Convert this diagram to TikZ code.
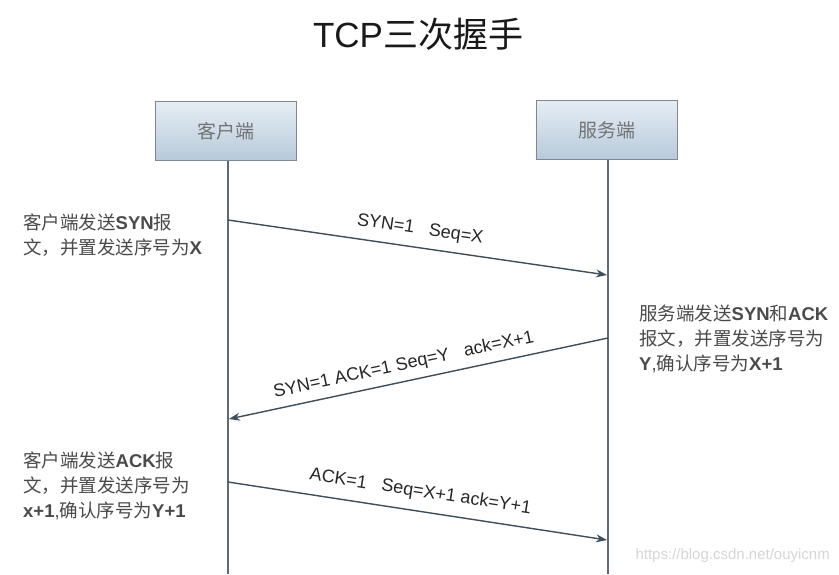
\documentclass[tikz,border=0pt]{standalone}
\usepackage{fontspec}
\setmainfont{Liberation Sans}
\newfontfamily\zh{Noto Sans CJK SC}
\usetikzlibrary{arrows.meta}
\definecolor{boxtop}{HTML}{E6EDF4}
\definecolor{boxbot}{HTML}{B7CADB}
\definecolor{boxline}{HTML}{7D8893}
\definecolor{lifeline}{HTML}{5E6B76}
\definecolor{msgcol}{HTML}{3E4E5A}
\definecolor{sidetxt}{HTML}{4A4A4A}
\definecolor{wmark}{HTML}{D6D6D6}
\begin{document}
\begin{tikzpicture}[x=1pt,y=-1pt,
  actor/.style={draw=boxline, line width=1.2pt, top color=boxtop, bottom color=boxbot,
    minimum width=141pt, minimum height=59pt, inner sep=0pt,
    font=\zh\fontsize{19}{19}\selectfont, text=black!55},
  life/.style={draw=lifeline, line width=1.4pt},
  msg/.style={draw=msgcol, line width=1.4pt, -{Stealth[length=11pt,width=8pt]}},
  lbl/.style={font=\fontsize{18}{18}\selectfont, text=black!85, inner sep=3pt},
  side/.style={anchor=base west, align=left, inner sep=0pt,
    font=\fontsize{18.5}{25}\selectfont, text=sidetxt}
]
\useasboundingbox[fill=white] (0,0) rectangle (839,574);

% title
\node[anchor=base, font=\fontsize{35}{35}\selectfont, text=black!90] (title) at (418,47) {TCP{\zh 三次握手}};

% actors
\node[actor] (client) at (226,131) {客户端};
\node[actor] (server) at (607,130) {服务端};

% lifelines
\coordinate (cend) at (228,574);
\coordinate (send) at (608,574);
\draw[life] (client.south -| cend) -- (cend);
\draw[life] (server.south -| send) -- (send);

% message points
\coordinate (c1) at (228,220);
\coordinate (s1) at (607,275);
\coordinate (s2) at (608,338);
\coordinate (c2) at (229,419);
\coordinate (c3) at (228,482);
\coordinate (s3) at (607,540);

\draw[msg] (c1) -- node[lbl, sloped, above, pos=0.5, yshift=6pt] (l1) {SYN=1\ \ \ Seq=X} (s1);
\draw[msg] (s2) -- node[lbl, sloped, above, pos=0.53, yshift=4pt] (l2) {SYN=1 ACK=1 Seq=Y\ \ \ ack=X+1} (c2);
\draw[msg] (c3) -- node[lbl, sloped, above, pos=0.5, yshift=7pt] (l3) {ACK=1\ \ \ Seq=X+1 ack=Y+1} (s3);

% side notes (anchor = baseline of last line)
\node[side] (n1) at (23,254) {{\zh 客户端发送}\textbf{SYN}{\zh 报}\\{\zh 文，并置发送序号为}\textbf{X}};
\node[side] (n2) at (639,370) {{\zh 服务端发送}\textbf{SYN}{\zh 和}\textbf{ACK}\\{\zh 报文，并置发送序号为}\\\textbf{Y},{\zh 确认序号为}\textbf{X+1}};
\node[side] (n3) at (23,517) {{\zh 客户端发送}\textbf{ACK}{\zh 报}\\{\zh 文，并置发送序号为}\\\textbf{x+1},{\zh 确认序号为}\textbf{Y+1}};

% watermark
\node[anchor=base east, font=\fontsize{15}{15}\selectfont, text=wmark, inner sep=0pt] (wm) at (830,559) {https://blog.csdn.net/ouyicnm};
\end{tikzpicture}
\end{document}
